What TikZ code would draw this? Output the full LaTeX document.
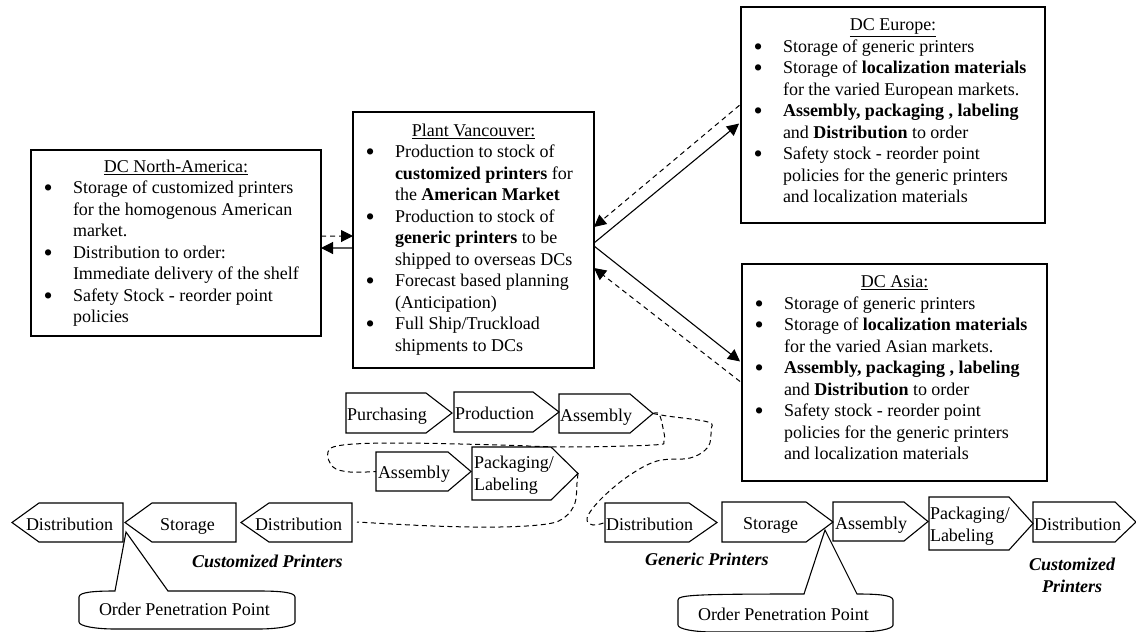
\documentclass[tikz,border=0pt]{standalone}
\usepackage{fontspec}
\setmainfont{Liberation Serif}
\usetikzlibrary{arrows.meta,calc}
\tikzset{
  dcbox/.style={draw=black,line width=1.1pt,inner sep=0pt,outer sep=0pt,anchor=north west,fill=white},
  shp/.style={draw=black,line width=1.1pt,line join=miter},
  lbl/.style={inner sep=0pt,outer sep=0pt,anchor=base west},
  solidarrow/.style={line width=1.1pt,-{Triangle[length=12pt,width=12pt]}},
  dasharrow/.style={line width=1pt,dash pattern=on 5pt off 4pt,-{Triangle[length=12pt,width=12pt]}},
  dashcurve/.style={line width=1pt,dash pattern=on 5pt off 3.5pt},
  emlbl/.style={lbl,font=\fontsize{18}{21.5}\selectfont\bfseries\itshape}
}
\newcommand\itm[2][12.5]{\par\hangindent=#2pt\hangafter=1\noindent\hbox to #2pt{\hskip#1pt\raisebox{-3pt}[0pt][0pt]{\fontsize{26}{26}\selectfont\textbullet}\hss}}
\newcommand\ttl[1]{{\centering\underline{#1}\par}}
% name, left, top, width, height, pad top, content
\newcommand\dcnode[7]{%
  \node[dcbox] (#1) at (#2,#3) {\begin{minipage}[t][#5pt][t]{#4pt}\vspace*{#6pt}\fontsize{18}{21.5}\selectfont\setlength\parindent{0pt}\raggedright\def\\{\hfil\break}#7\end{minipage}};}
% chevron: name,tail x,top,bottom,shoulder,tip,text x,baseline,text
\newcommand\chev[9]{%
  \pgfmathsetmacro\mm{(#3+#4)/2}%
  \draw[shp] (#2,#3) -- (#5,#3) -- (#6,\mm) -- (#5,#4) -- (#2,#4) -- cycle;
  \coordinate (#1-tip) at (#6,\mm);
  \coordinate (#1-tail) at (#2,\mm);
  \node[lbl] (#1) at (#7,#8) {#9};}
\newcommand\twol[2]{\vtop{\baselineskip=22pt\hbox{#1}\hbox{#2}}}
\begin{document}
\begin{tikzpicture}[x=1pt,y=-1pt,font=\fontsize{18}{21.5}\selectfont]
\useasboundingbox (0,0) rectangle (1136,632);
\dcnode{na}{31}{150}{290}{186}{10}{%
  \ttl{DC North-America:}%
  \itm{42}Storage of customized printers\\for the homogenous American\\market.
  \itm{42}Distribution to order:\\Immediate delivery of the shelf
  \itm{42}Safety Stock - reorder point\\policies}
\dcnode{plant}{353}{112}{241}{256}{12}{%
  \ttl{Plant Vancouver:}%
  \itm{42}Production to stock of\\\textbf{customized printers} for\\the \textbf{American Market}
  \itm{42}Production to stock of\\\textbf{generic printers} to be\\shipped to overseas DCs
  \itm{42}Forecast based planning\\(Anticipation)
  \itm{42}Full Ship/Truckload\\shipments to DCs}
\dcnode{eu}{741}{7}{304}{216}{12}{%
  \ttl{DC Europe:}%
  \itm{42}Storage of generic printers
  \itm{42}Storage of \textbf{localization materials}\\for the varied European markets.
  \itm{42}\textbf{Assembly, packaging , labeling}\\and \textbf{Distribution} to order
  \itm{42}Safety stock - reorder point\\policies for the generic printers\\and localization materials}
\dcnode{asia}{742}{264}{305}{217}{12}{%
  \ttl{DC Asia:}%
  \itm{42}Storage of generic printers
  \itm{42}Storage of \textbf{localization materials}\\for the varied Asian markets.
  \itm{42}\textbf{Assembly, packaging , labeling}\\and \textbf{Distribution} to order
  \itm{42}Safety stock - reorder point\\policies for the generic printers\\and localization materials}
% connectors between boxes
\draw[dasharrow] ($(na.south east)!.5376!(na.north east)$) -- ($(plant.south west)!.5156!(plant.north west)$);
\draw[solidarrow] ($(plant.south west)!.46875!(plant.north west)$) -- ($(na.south east)!.4731!(na.north east)$);
\draw[solidarrow,shorten >=2.5pt] ($(plant.south east)!.48828!(plant.north east)$) -- ($(eu.south west)!.4676!(eu.north west)$);
\draw[dasharrow,shorten <=2pt] ($(eu.south west)!.5509!(eu.north west)$) -- ($(plant.south east)!.5508!(plant.north east)$);
\draw[solidarrow,shorten >=2.5pt] ($(plant.south east)!.4766!(plant.north east)$) -- ($(asia.south west)!.5438!(asia.north west)$);
\draw[dasharrow,shorten <=2.5pt] ($(asia.south west)!.4516!(asia.north west)$) -- ($(plant.south east)!.3906!(plant.north east)$);
% chevrons
\chev{purch}{346}{393}{433}{426}{452}{347}{420}{Purchasing}
\chev{prod}{454}{392}{432}{533}{559}{455}{419}{Production}
\chev{asm}{559}{394}{433}{630}{653}{560}{421}{Assembly}
\chev{asmb}{376}{452}{491}{448}{471}{378}{478}{Assembly}
\chev{pack}{472}{447}{500}{551}{578}{474}{468}{\twol{Packaging/}{Labeling}}
\chev{dista}{123}{503}{542}{39}{12}{26}{530}{Distribution}
\chev{stora}{236}{503}{542}{152}{125}{160}{530}{Storage}
\chev{distb}{352}{503}{542}{269}{241}{255}{530}{Distribution}
\chev{distc}{605}{503}{542}{689}{717}{606}{530}{Distribution}
\chev{storb}{722}{502}{542}{806}{833}{743}{529}{Storage}
\chev{asmc}{833}{502}{541}{904}{928}{835}{529}{Assembly}
\chev{packb}{929}{497}{550}{1009}{1033}{930}{519}{\twol{Packaging/}{Labeling}}
\chev{distd}{1033}{502}{542}{1115}{1136}{1034}{530}{Distribution}
% dashed flow curves
\draw[dashcurve] plot[smooth,tension=0.6] coordinates {(asm-tip) (659,414) (663,428) (664,441) (653,445) (567,447) (500,445) (400,443) (343,445) (328,452) (333,467) (350,472) (asmb-tail)};
\draw[dashcurve] plot[smooth,tension=0.6] coordinates {(pack-tip) (577,483) (575,503) (565,517) (547,524) (500,527) (433,526) (357,522)};
\draw[dashcurve] plot[smooth,tension=0.6] coordinates {(asm-tip) (667,416) (708,422) (711,430) (708,447) (690,458) (657,461) (627,477) (600,500) (587,518) (593,525) (distc-tail)};
% callouts
\coordinate (tipa) at (126,532);
\draw[shp] (tipa) -- (115,591) .. controls (95,591) and (79,592) .. (79,597) -- (79,622) .. controls (79,626) and (95,629) .. (115,629) -- (258,629) .. controls (278,629) and (295,626) .. (295,622) -- (295,597) .. controls (295,592) and (278,591) .. (258,591) -- (168,591) -- cycle;
\node[lbl] (oppa) at (99,615) {Order Penetration Point};
\coordinate (tipb) at (825,530);
\draw[shp] (tipb) -- (804,594) .. controls (694,594) and (678,595) .. (678,600) -- (678,625) .. controls (678,629) and (694,632) .. (714,632) -- (857,632) .. controls (877,632) and (893,629) .. (893,625) -- (893,600) .. controls (893,595) and (877,594) .. (857,594) -- cycle;
\node[lbl] (oppb) at (698,620) {Order Penetration Point};
% emphasis labels
\node[emlbl] (ca) at (192,567) {Customized Printers};
\node[emlbl] (ga) at (645,565) {Generic Printers};
\node[emlbl] (cb) at (1029,570) {Customized};
\node[emlbl] (cc) at (1042,592) {Printers};
\end{tikzpicture}
\end{document}
